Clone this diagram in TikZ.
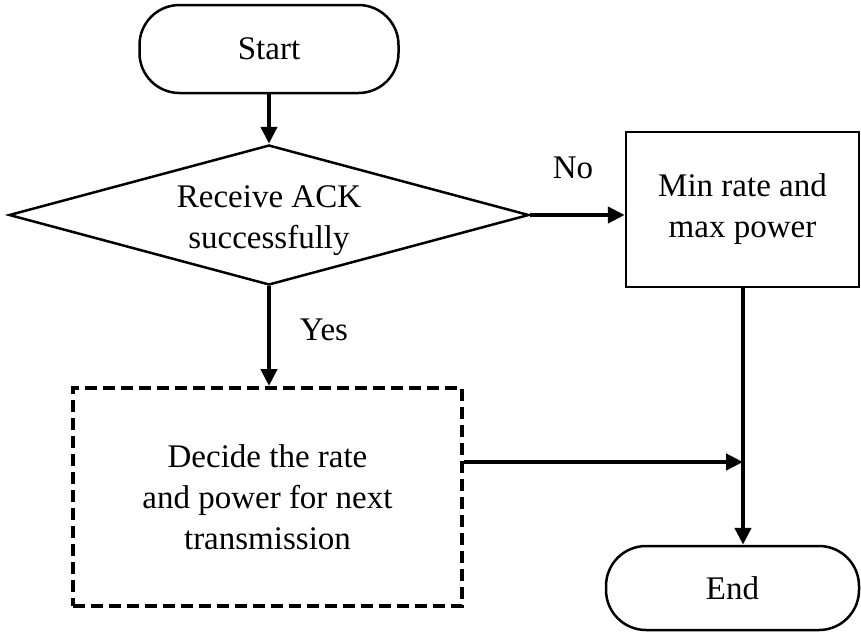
\documentclass[tikz,border=0pt]{standalone}
\usepackage{fontspec}
\setmainfont{Liberation Serif}
\usetikzlibrary{shapes.geometric,arrows.meta,calc}
\begin{document}
\begin{tikzpicture}[x=1pt,y=-1pt,
  every node/.style={font=\fontsize{33}{41}\selectfont, align=center},
  terminal/.style={draw, line width=2.5pt, rounded corners=40pt, inner sep=0pt},
  decision/.style={draw, diamond, line width=2.5pt, aspect=3.7, inner sep=0pt},
  process/.style={draw, rectangle, line width=2.5pt, inner sep=0pt},
  dashedbox/.style={draw, rectangle, line width=4pt, dash pattern=on 12pt off 6pt, inner sep=0pt},
  flow/.style={line width=4.5pt, -{Triangle[length=17pt,width=16pt]}}]
\useasboundingbox (0,0) rectangle (861,633);

\node[terminal, minimum width=259pt, minimum height=88pt] (start) at (269,49) {Start};
\node[decision, minimum width=520pt, minimum height=140pt] (dec) at (269,215) {\rule{0pt}{34pt}Receive ACK\\successfully};
\node[process, minimum width=233pt, minimum height=155pt] (minp) at (742.5,209.5) {Min rate and\\ max power};
\node[dashedbox, minimum width=389pt, minimum height=218pt] (decide) at (267.5,497) {Decide the rate\\and power for next\\transmission};
\node[terminal, minimum width=253pt, minimum height=84pt] (end) at (732.5,588) {End};

\node (no) at (573,168) {No};
\node (yes) at (324,330) {Yes};

\coordinate (join) at (743,462);

\draw[flow] (start.south) -- (dec.north);
\draw[flow] (dec.east) -- (dec.east -| minp.west);
\draw[flow] (dec.south) -- (dec.south |- decide.north);
\draw[flow] (decide.east |- join) -- (join);
\draw[flow] (minp.south -| join) -- (join |- end.north);
\end{tikzpicture}
\end{document}
